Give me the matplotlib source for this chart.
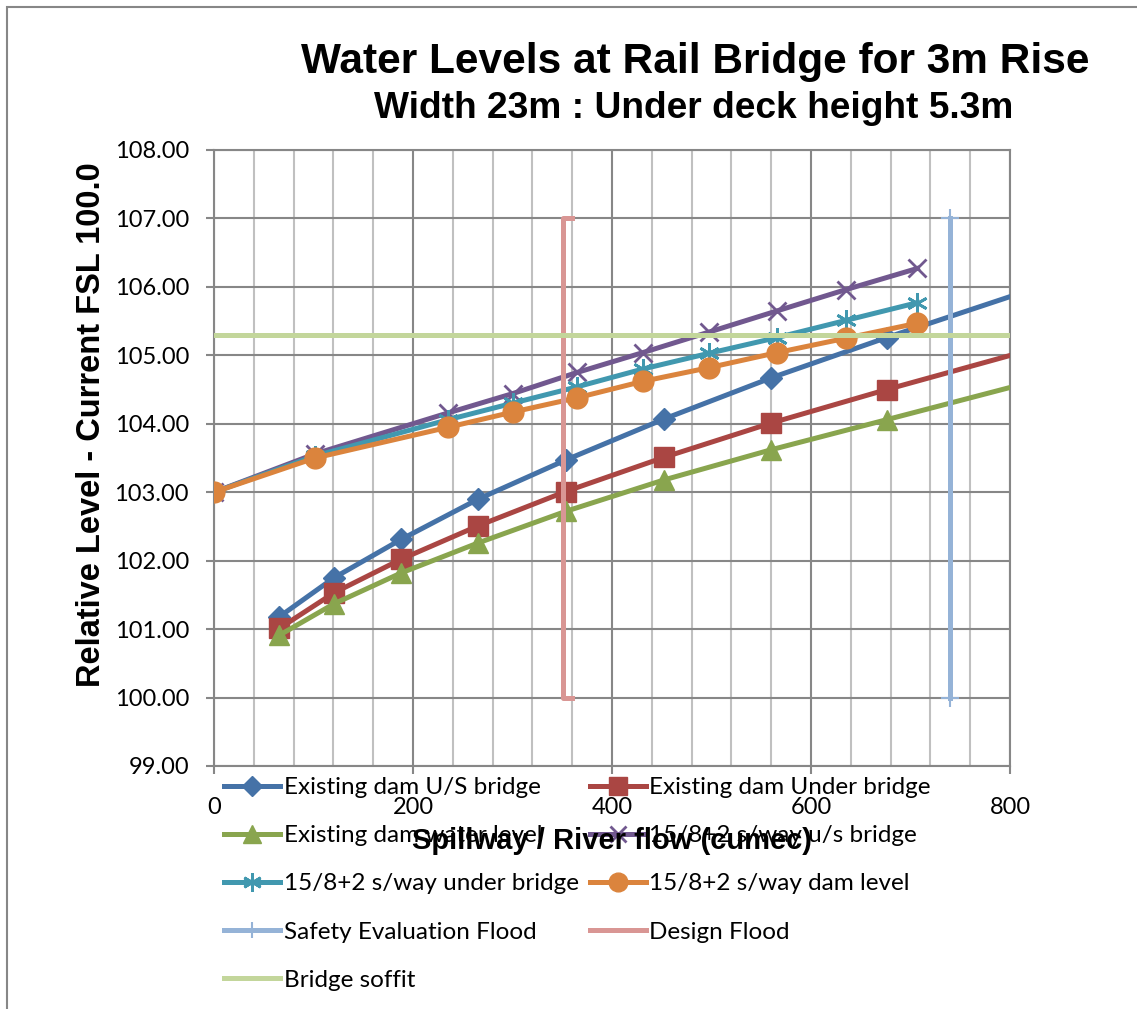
import matplotlib
matplotlib.use("Agg")
import matplotlib.pyplot as plt
from matplotlib.patches import Rectangle
from matplotlib.ticker import MultipleLocator, FormatStrFormatter

# ---- data -------------------------------------------------------------
existing_flow = [65.6, 120.6, 188, 265.6, 353.4, 452.3, 559.8, 676.1, 900]
existing_us_bridge = [101.18, 101.75, 102.31, 102.90, 103.47, 104.07, 104.67, 105.26, 106.34]
existing_under_bridge = [101.01, 101.53, 102.02, 102.51, 103.01, 103.51, 104.01, 104.50, 105.40]
existing_dam_level = [100.91, 101.37, 101.82, 102.26, 102.72, 103.18, 103.62, 104.06, 104.91]

option_flow = [0, 101.5, 235.5, 300, 365, 431, 497.5, 566, 635, 707]
option_us_bridge = [103.0, 103.56, 104.16, 104.44, 104.75, 105.04, 105.34, 105.65, 105.96, 106.27]
option_under_bridge = [103.0, 103.53, 104.06, 104.30, 104.54, 104.80, 105.03, 105.26, 105.51, 105.77]
option_dam_level = [103.0, 103.50, 103.95, 104.17, 104.38, 104.62, 104.82, 105.04, 105.25, 105.47]

safety_flood_x = [740, 740]
safety_flood_y = [100, 107]
design_flood_x = [360, 351, 351, 360]
design_flood_y = [107, 107, 100, 100]
soffit_x = [0, 800]
soffit_y = [105.3, 105.3]

x_ticks = [0, 200, 400, 600, 800]
y_ticks = [99, 100, 101, 102, 103, 104, 105, 106, 107, 108]

title = "Water Levels at Rail Bridge for 3m Rise"
subtitle = "Width 23m : Under deck height 5.3m"
x_label = "Spillway / River flow (cumec)"
y_label = "Relative Level - Current FSL 100.0"

# ---- styling ----------------------------------------------------------
W, H = 1137, 1009
BOLD = "Liberation Sans"
BODY = "Lato"
GRID_DARK = "#878787"
GRID_LIGHT = "#c0c0c0"

fig = plt.figure(figsize=(W / 100, H / 100), dpi=100)
fig.patch.set_facecolor("white")

# chart-area frame (left and top edges fall inside the canvas)
fig.patches.append(Rectangle((7 / W, -0.1), 1.5, 1 - 7 / H + 0.1,
                             transform=fig.transFigure, fill=False,
                             edgecolor=GRID_DARK, linewidth=1.5))

ax = fig.add_axes([214 / W, 1 - 766 / H, (1010 - 214) / W, (766 - 150) / H])
ax.set_xlim(0, 800)
ax.set_ylim(99, 108)

ax.xaxis.set_minor_locator(MultipleLocator(40))
ax.set_xticks(x_ticks)
ax.set_yticks(y_ticks)
ax.yaxis.set_major_formatter(FormatStrFormatter("%.2f"))

ax.grid(True, which="major", axis="both", color=GRID_DARK, linewidth=1.5, zorder=0)
ax.grid(True, which="minor", axis="x", color=GRID_LIGHT, linewidth=1.5, zorder=0)
ax.set_axisbelow(True)
for sp in ax.spines.values():
    sp.set_color(GRID_DARK)
    sp.set_linewidth(1.5)

ax.tick_params(axis="y", which="major", length=6, width=1.5, color=GRID_DARK,
               labelsize=17, pad=12)
ax.tick_params(axis="x", which="major", length=6, width=1.5, color=GRID_DARK,
               labelsize=17, pad=16)
ax.tick_params(axis="x", which="minor", length=0)
for lbl in ax.get_xticklabels() + ax.get_yticklabels():
    lbl.set_fontfamily(BODY)

LW = 3.6
series = [
    (existing_flow, existing_us_bridge, "Existing dam U/S bridge", "#4572A7",
     dict(marker="D", ms=11)),
    (existing_flow, existing_under_bridge, "Existing dam Under bridge", "#AA4643",
     dict(marker="s", ms=14)),
    (existing_flow, existing_dam_level, "Existing dam water level", "#89A54E",
     dict(marker="^", ms=14)),
    (option_flow, option_us_bridge, "15/8+2 s/way u/s bridge", "#71588F",
     dict(marker="x", ms=13, mew=2)),
    (option_flow, option_under_bridge, "15/8+2 s/way under bridge", "#4198AF",
     dict(marker=(6, 2, 0), ms=15, mew=2)),
    (option_flow, option_dam_level, "15/8+2 s/way dam level", "#DB843D",
     dict(marker="o", ms=15)),
]

handles = []
for i, (xs, ys, name, col, mk) in enumerate(series):
    h, = ax.plot(xs, ys, color=col, lw=LW, label=name, mfc=col, mec=col,
                 zorder=3 + i, clip_on=True, **mk)
    handles.append(h)

h, = ax.plot(safety_flood_x, safety_flood_y, color="#95B3D7", lw=LW,
             marker="+", ms=13, mew=1.5, label="Safety Evaluation Flood",
             zorder=10, clip_on=False)
handles.append(h)
h, = ax.plot(design_flood_x, design_flood_y, color="#D99694", lw=LW,
             label="Design Flood", zorder=11, solid_joinstyle="round")
handles.append(h)
h, = ax.plot(soffit_x, soffit_y, color="#C3D69B", lw=LW, label="Bridge soffit",
             zorder=12)
handles.append(h)

# titles
fig.text(695 / W, 1 - 62 / H, title, ha="center", va="center",
         fontfamily=BOLD, fontweight="bold", fontsize=30.5)
fig.text(694 / W, 1 - 108 / H, subtitle, ha="center", va="center",
         fontfamily=BOLD, fontweight="bold", fontsize=26.7)
fig.text(612 / W, 1 - 841 / H, x_label, ha="center", va="center",
         fontfamily=BOLD, fontweight="bold", fontsize=21, zorder=20)
fig.text(92 / W, 1 - 425 / H, y_label, ha="center", va="center", rotation=90,
         fontfamily=BOLD, fontweight="bold", fontsize=23.5)

# legend, filled row by row in two columns
order = [0, 2, 4, 6, 8, 1, 3, 5, 7]
leg = fig.legend([handles[i] for i in order], [handles[i].get_label() for i in order],
                 ncol=2, loc="upper left", bbox_to_anchor=(224 / W, 1 - 777 / H),
                 frameon=False, borderpad=0, borderaxespad=0,
                 handlelength=2.3, handletextpad=0.15, columnspacing=0.46,
                 labelspacing=1.12, prop={"family": BODY, "size": 17.5},
                 markerscale=0.9)

fig.savefig("out.png", dpi=100)
